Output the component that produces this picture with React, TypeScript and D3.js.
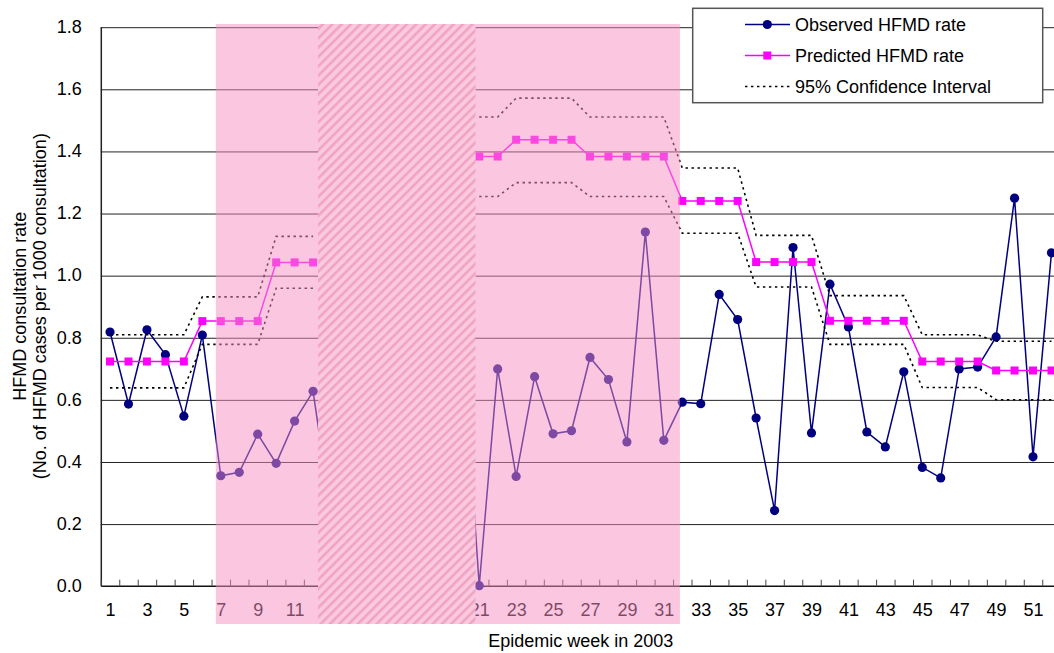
import React, { useRef, useEffect } from 'react'
import * as d3 from 'd3'

// epidemic weeks 1..52 of 2003
const weeks: number[] = d3.range(1, 53)
const xTickWeeks: number[] = weeks.filter(w => w % 2 === 1)
const yTicks: number[] = [0, 0.2, 0.4, 0.6, 0.8, 1.0, 1.2, 1.4, 1.6, 1.8]

// observed rate (weeks 14-19 hidden under the hatched block)
const observed: (number | null)[] = [
  0.817, 0.585, 0.824, 0.744, 0.546, 0.807, 0.354, 0.365, 0.488, 0.394, 0.530, 0.626,
  0.22, null, null, null, null, null, null, 0.88,
  0.0, 0.698, 0.352, 0.673, 0.489, 0.499, 0.735, 0.664, 0.463, 1.139, 0.468, 0.591,
  0.586, 0.938, 0.857, 0.540, 0.242, 1.089, 0.492, 0.971, 0.833, 0.495, 0.447, 0.689,
  0.381, 0.347, 0.698, 0.704, 0.801, 1.248, 0.415, 1.072,
]

const predicted: (number | null)[] = [
  0.722, 0.722, 0.722, 0.722, 0.722, 0.852, 0.852, 0.852, 0.852, 1.041, 1.041, 1.041,
  null, null, null, null, null, null, null, null,
  1.382, 1.382, 1.436, 1.436, 1.436, 1.436, 1.382, 1.382, 1.382, 1.382, 1.382, 1.239,
  1.239, 1.239, 1.239, 1.042, 1.042, 1.042, 1.042, 0.853, 0.853, 0.853, 0.853, 0.853,
  0.722, 0.722, 0.722, 0.722, 0.693, 0.693, 0.693, 0.693,
]

const upperCI: (number | null)[] = [
  0.808, 0.808, 0.808, 0.808, 0.808, 0.930, 0.930, 0.930, 0.930, 1.125, 1.125, 1.125,
  null, null, null, null, null, null, null, null,
  1.509, 1.509, 1.570, 1.570, 1.570, 1.570, 1.509, 1.509, 1.509, 1.509, 1.509, 1.345,
  1.345, 1.345, 1.345, 1.128, 1.128, 1.128, 1.128, 0.934, 0.934, 0.934, 0.934, 0.934,
  0.808, 0.808, 0.808, 0.808, 0.787, 0.787, 0.787, 0.787,
]

const lowerCI: (number | null)[] = [
  0.637, 0.637, 0.637, 0.637, 0.637, 0.777, 0.777, 0.777, 0.777, 0.958, 0.958, 0.958,
  null, null, null, null, null, null, null, null,
  1.253, 1.253, 1.298, 1.298, 1.298, 1.298, 1.253, 1.253, 1.253, 1.253, 1.253, 1.135,
  1.135, 1.135, 1.135, 0.962, 0.962, 0.962, 0.962, 0.777, 0.777, 0.777, 0.777, 0.777,
  0.638, 0.638, 0.638, 0.638, 0.599, 0.599, 0.599, 0.599,
]

// shaded periods, in week units
const shadeSpan = [6.73, 31.87]
const hatchSpan = [12.27, 20.8]

const legendLabels = ['Observed HFMD rate', 'Predicted HFMD rate', '95% Confidence Interval']

const W = 1054, H = 653
const FONT = 'Arial, "Liberation Sans", sans-serif'
const R = 4.6, SQ = 8

const App = () => {
  const svgRef = useRef<SVGSVGElement>(null)

  useEffect(() => {
    const svg = d3.select(svgRef.current)
    svg.selectAll('*').remove()

    const left = 100.8, right = 1060.7, top = 26.7, bottom = 585.7

    const x = d3.scaleLinear().domain([0.5, 52.5]).range([left, right])
    const y = d3.scaleLinear().domain([0, 1.8]).range([bottom, top])

    const defs = svg.append('defs')
    const pat = defs.append('pattern')
      .attr('id', 'hatch')
      .attr('patternUnits', 'userSpaceOnUse')
      .attr('width', 6.6).attr('height', 6.6)
      .attr('patternTransform', 'rotate(45)')
    pat.append('rect').attr('width', 6.6).attr('height', 6.6).attr('fill', '#fac9df')
    pat.append('rect').attr('width', 2.6).attr('height', 6.6).attr('fill', '#f0a4c2')

    const g = svg.append('g').style('font-family', FONT).style('font-size', '18px')

    // y gridlines
    g.append('g')
      .attr('transform', `translate(${left},0)`)
      .call(d3.axisLeft(y).tickValues(yTicks.slice(1)).tickSize(-(right - left)).tickFormat(() => ''))
      .call(s => s.select('.domain').remove())
      .selectAll('line').attr('stroke', '#222').attr('transform', 'translate(0,0.5)')

    // y axis
    g.append('g')
      .attr('transform', `translate(${left},0)`)
      .call(d3.axisLeft(y).tickValues(yTicks).tickSize(0).tickSizeOuter(0).tickPadding(19).tickFormat(d3.format('.1f')))
      .call(s => s.select('.domain').attr('stroke', '#222').attr('stroke-width', 1.5))
      .call(s => s.selectAll('text').attr('fill', '#000').style('font-size', '18px').style('font-family', FONT))

    // x axis line with inner ticks between categories
    g.append('g')
      .attr('transform', `translate(0,${bottom})`)
      .call(d3.axisBottom(x).tickValues(d3.range(0.5, 53, 1)).tickSize(-6).tickSizeOuter(0).tickFormat(() => ''))
      .call(s => s.select('.domain').attr('stroke', '#111').attr('stroke-width', 1.5))
      .selectAll('line').attr('stroke', '#444')

    // x tick labels
    g.append('g')
      .attr('transform', `translate(0,${bottom})`)
      .call(d3.axisBottom(x).tickValues(xTickWeeks).tickSize(0).tickPadding(18).tickFormat(d3.format('d')))
      .call(s => s.select('.domain').remove())
      .call(s => s.selectAll('text').attr('fill', '#000').style('font-size', '18px').style('font-family', FONT))

    // axis titles
    g.append('text')
      .attr('x', (left + right) / 2).attr('y', 647)
      .attr('text-anchor', 'middle')
      .text('Epidemic week in 2003')
    g.append('text')
      .attr('transform', `translate(25.5,${(top + bottom) / 2}) rotate(-90)`)
      .attr('text-anchor', 'middle')
      .text('HFMD consultation rate')
    g.append('text')
      .attr('transform', `translate(46,${(top + bottom) / 2}) rotate(-90)`)
      .attr('text-anchor', 'middle')
      .text('(No. of HFMD cases per 1000 consultation)')

    const line = d3.line<number | null>()
      .defined(d => d !== null)
      .x((d, i) => x(weeks[i]))
      .y(d => y(d as number))

    // observed
    g.append('path').datum(observed)
      .attr('d', line).attr('fill', 'none').attr('stroke', '#000080').attr('stroke-width', 1.5)
    g.append('g').selectAll('circle')
      .data(weeks.filter((w, i) => observed[i] !== null))
      .join('circle')
      .attr('cx', w => x(w)).attr('cy', w => y(observed[w - 1] as number))
      .attr('r', R).attr('fill', '#000080')

    // predicted
    g.append('path').datum(predicted)
      .attr('d', line).attr('fill', 'none').attr('stroke', '#ff00ff').attr('stroke-width', 1.5)
    g.append('g').selectAll('rect')
      .data(weeks.filter((w, i) => predicted[i] !== null))
      .join('rect')
      .attr('x', w => x(w) - SQ / 2).attr('y', w => y(predicted[w - 1] as number) - SQ / 2)
      .attr('width', SQ).attr('height', SQ).attr('fill', '#ff00ff')

    // confidence interval
    for (const ci of [upperCI, lowerCI]) {
      g.append('path').datum(ci)
        .attr('d', line).attr('fill', 'none').attr('stroke', '#000')
        .attr('stroke-width', 1.6).attr('stroke-dasharray', '2.4,3.6')
    }

    // shaded period overlay
    svg.append('rect')
      .attr('x', x(shadeSpan[0])).attr('width', x(shadeSpan[1]) - x(shadeSpan[0]))
      .attr('y', 24).attr('height', 600)
      .attr('fill', 'rgb(245,143,194)').attr('fill-opacity', 0.51)
    svg.append('rect')
      .attr('x', x(hatchSpan[0])).attr('width', x(hatchSpan[1]) - x(hatchSpan[0]))
      .attr('y', 24).attr('height', 600)
      .attr('fill', 'url(#hatch)')

    // legend
    const lg = svg.append('g').style('font-family', FONT).style('font-size', '18px')
    lg.append('rect')
      .attr('x', 692.7).attr('y', 8.3).attr('width', 350).attr('height', 94.4)
      .attr('fill', '#fff').attr('stroke', '#555').attr('stroke-width', 1.5)
    const rowY = d3.scaleLinear().domain([0, 2]).range([24.5, 86.5])
    legendLabels.forEach((label, i) => {
      const ry = rowY(i)
      const item = lg.append('g')
      if (i === 0) {
        item.append('line').attr('x1', 745).attr('x2', 790).attr('y1', ry).attr('y2', ry)
          .attr('stroke', '#000080').attr('stroke-width', 1.5)
        item.append('circle').attr('cx', 767.3).attr('cy', ry).attr('r', R).attr('fill', '#000080')
      } else if (i === 1) {
        item.append('line').attr('x1', 745).attr('x2', 790).attr('y1', ry).attr('y2', ry)
          .attr('stroke', '#ff00ff').attr('stroke-width', 1.5)
        item.append('rect').attr('x', 767.3 - SQ / 2).attr('y', ry - SQ / 2).attr('width', SQ).attr('height', SQ)
          .attr('fill', '#ff00ff')
      } else {
        item.append('line').attr('x1', 745).attr('x2', 790).attr('y1', ry).attr('y2', ry)
          .attr('stroke', '#000').attr('stroke-width', 1.6).attr('stroke-dasharray', '2.4,3.6')
      }
      item.append('text').attr('x', 795).attr('y', ry + 6.3).attr('fill', '#000').text(label)
    })
  }, [])

  return (
    <svg ref={svgRef} width={W} height={H}
      style={{ position: 'absolute', left: 0, top: 0, display: 'block', background: '#fff' }} />
  )
}

export default App
